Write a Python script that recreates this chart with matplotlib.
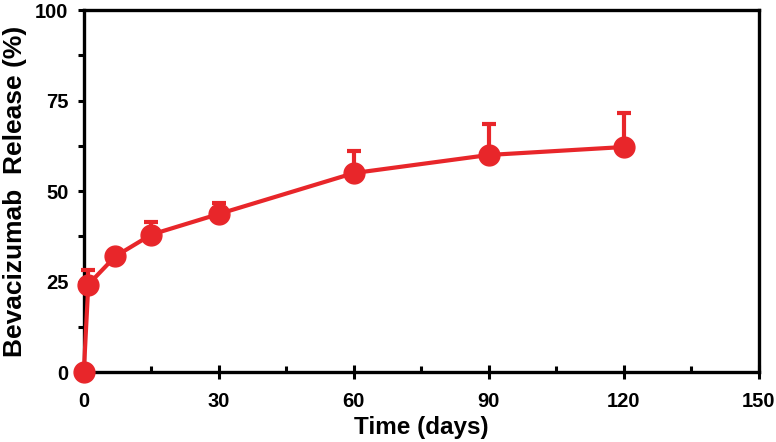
import numpy as np
import matplotlib.pyplot as plt
from matplotlib.ticker import MultipleLocator

plt.rcParams['font.family'] = ['Liberation Sans', 'DejaVu Sans']
plt.rcParams['font.weight'] = 'bold'

# release data
days = [0, 1, 7, 15, 30, 60, 90, 120]
release = [0, 24.2, 32, 38, 43.7, 55, 60, 62.2]
err = [0, 4, 1.5, 3.5, 3, 6, 8.5, 9.5]

red = '#E8262A'

fig = plt.figure(figsize=(7.76, 4.42), dpi=100)
ax = fig.add_axes([0.108, 0.158, 0.870, 0.819])

ax.errorbar(days, release, yerr=[np.zeros(len(err)), err], color=red, lw=3,
            marker='o', ms=15, elinewidth=3, capsize=5, capthick=3, zorder=3, clip_on=False)

ax.set_xlim(0, 150)
ax.set_ylim(0, 100)
ax.xaxis.set_major_locator(MultipleLocator(30))
ax.xaxis.set_minor_locator(MultipleLocator(15))
ax.yaxis.set_major_locator(MultipleLocator(25))
ax.yaxis.set_minor_locator(MultipleLocator(12.5))

for s in ax.spines.values():
    s.set_linewidth(2.4)
ax.tick_params(axis='x', which='major', direction='inout', length=10, width=2.2, labelsize=14.5, pad=9)
ax.tick_params(axis='x', which='minor', direction='in', length=4, width=2.2)
ax.tick_params(axis='y', which='major', direction='out', length=4, width=2.2, labelsize=14.5, pad=7)
ax.tick_params(axis='y', which='minor', direction='out', length=4, width=2.2)

ax.set_xlabel('Time (days)', fontsize=17.5, fontweight='bold', labelpad=4)
ax.set_ylabel('Bevacizumab  Release (%)', fontsize=19, fontweight='bold', labelpad=6)

fig.savefig('out.png', dpi=100)
